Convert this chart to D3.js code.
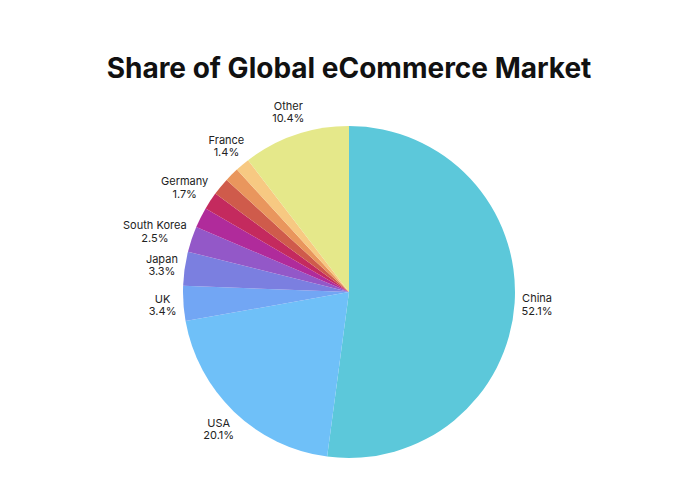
<!DOCTYPE html>
<html>
<head>
<meta charset="utf-8">
<script src="https://cdn.jsdelivr.net/npm/d3@7"></script>
<style>
  html, body { margin: 0; padding: 0; background: #ffffff; }
  svg { display: block; }
</style>
</head>
<body>
<svg id="chart" width="700" height="499"></svg>
<script>
// ---- data ----
const categories = ["China", "USA", "UK", "Japan", "South Korea", "", "Germany", "", "", "France", "Other"];
const shares = [52.1, 20.1, 3.4, 3.3, 2.5, 2.0, 1.7, 1.7, 1.4, 1.4, 10.4];
const titleText = "Share of Global eCommerce Market";

// ---- style ----
const palette = ["#5cc8da", "#6fc0f8", "#72a6f4", "#7b7fe0", "#9358c8", "#b02b9b",
                 "#c42a5e", "#cf5b4b", "#e9965d", "#f7c982", "#e5e88a"];

const W = 700, H = 499;
const cx = 349, cy = 292, R = 166;
const svg = d3.select("#chart");
svg.append("rect").attr("width", W).attr("height", H).attr("fill", "#ffffff");

svg.append("text")
  .attr("x", 349).attr("y", 78)
  .attr("text-anchor", "middle")
  .attr("font-family", "Inter, 'Noto Sans', sans-serif")
  .attr("font-weight", 700)
  .attr("font-size", 28)
  .attr("fill", "#111111")
  .text(titleText);

const data = categories.map((c, i) => ({ name: c, value: shares[i], color: palette[i] }));
const pie = d3.pie().sort(null).value(d => d.value);
const arcs = pie(data);
const arc = d3.arc().innerRadius(0).outerRadius(R);

const g = svg.append("g").attr("transform", `translate(${cx},${cy})`);
g.selectAll("path.slice")
  .data(arcs)
  .join("path")
  .attr("class", "slice")
  .attr("d", arc)
  .attr("fill", d => d.data.color);

const fmt = v => v.toFixed(1) + "%";
const labels = g.selectAll("g.lbl")
  .data(arcs.filter(d => d.data.name !== ""))
  .join("g").attr("class", "lbl");

labels.each(function(d) {
  const gl = d3.select(this);
  const t = gl.append("text")
    .attr("text-anchor", "middle")
    .attr("font-family", "Inter, 'Noto Sans', sans-serif")
    .attr("font-size", 11)
    .attr("fill", "#222222");
  const t1 = t.append("tspan").attr("x", 0).attr("y", -2.5).text(d.data.name);
  const t2 = t.append("tspan").attr("x", 0).attr("y", 10).text(fmt(d.data.value));
  const hw = Math.max(t1.node().getComputedTextLength(), t2.node().getComputedTextLength()) / 2;
  const a = (d.startAngle + d.endAngle) / 2;
  const ux = Math.sin(a), uy = -Math.cos(a);
  const gap = 7, hh = 17;
  const x = ux * (R + gap) + ux * hw;
  const y = uy * (R + gap) + uy * hh;
  gl.attr("transform", `translate(${x},${y})`);
});
</script>
</body>
</html>
